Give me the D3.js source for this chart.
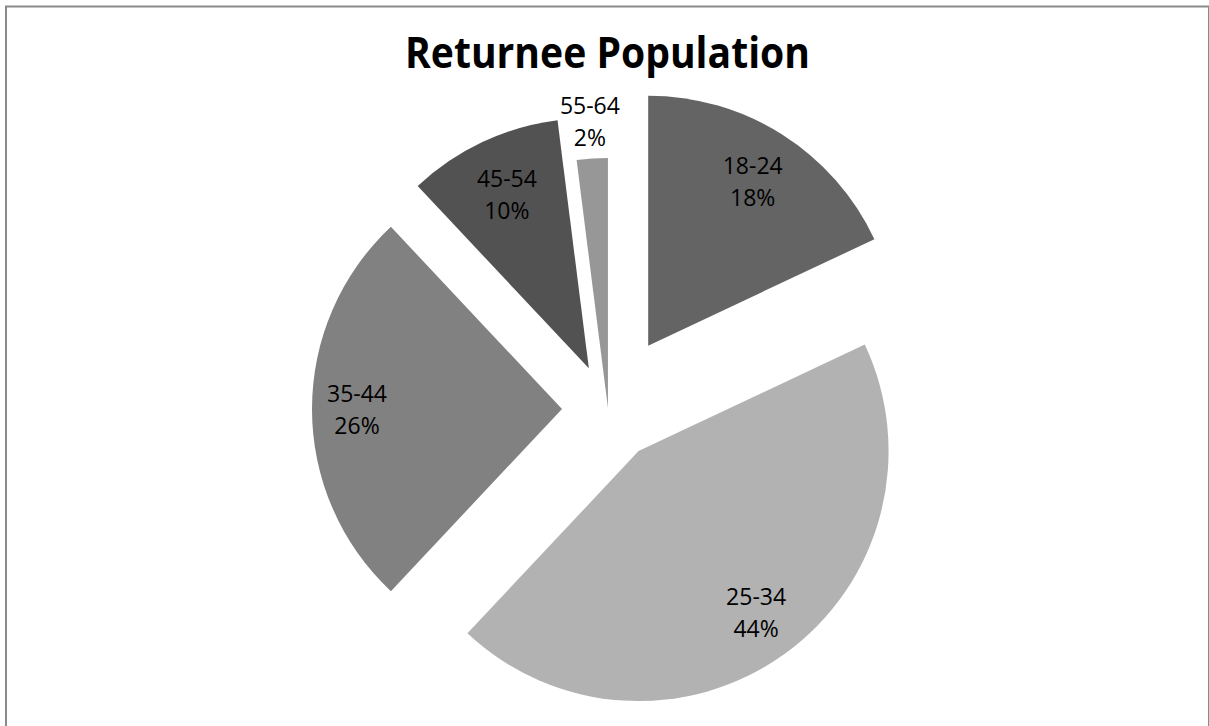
<!DOCTYPE html>
<html>
<head>
<meta charset="utf-8">
<script src="https://cdn.jsdelivr.net/npm/d3@7"></script>
<style>
  html, body { margin: 0; padding: 0; background: #fff; }
  svg { display: block; }
</style>
</head>
<body>
<svg id="chart" width="1209" height="726"></svg>
<script>
// Age groups and their share of the returnee population (%)
const categories = ["18-24", "25-34", "35-44", "45-54", "55-64"];
const shares = [18, 44, 26, 10, 2];
const title = "Returnee Population";

// Slice fills, one per age group
const fills = ["#646464", "#b2b2b2", "#818181", "#525252", "#979797"];
// How far each slice is pulled out from the centre (px)
const pullOut = [75, 52, 46, 45, 1];
// Where each label block sits, as a fraction of the radius from the slice apex
const labelReach = [0.78, 0.80, 0.82, 0.77, 1.15];

const cx = 608, cy = 409, R = 250;

const svg = d3.select("#chart");

// chart frame
svg.append("rect")
  .attr("x", 6).attr("y", 6.5)
  .attr("width", 1203).attr("height", 760)
  .attr("fill", "none")
  .attr("stroke", "#8a8a8a")
  .attr("stroke-width", 2);

svg.append("text")
  .attr("x", 405).attr("y", 68)
  .attr("text-anchor", "start")
  .attr("font-family", "'Open Sans', sans-serif")
  .attr("font-weight", 700)
  .attr("font-size", 43)
  .attr("textLength", 405)
  .attr("lengthAdjust", "spacingAndGlyphs")
  .attr("fill", "#000")
  .text(title);

const pie = d3.pie().sort(null).value(d => d.v);
const data = pie(categories.map((c, i) => ({ c, v: shares[i], i })));
const arc = d3.arc().innerRadius(0).outerRadius(R);

const g = svg.append("g").attr("transform", `translate(${cx},${cy})`);

const slice = g.selectAll("g.slice").data(data).join("g")
  .attr("class", "slice")
  .attr("transform", d => {
    const mid = (d.startAngle + d.endAngle) / 2;
    const k = pullOut[d.data.i];
    return `translate(${k * Math.sin(mid)},${-k * Math.cos(mid)})`;
  });

slice.append("path")
  .attr("d", arc)
  .attr("fill", d => fills[d.data.i]);

const lbl = slice.append("text")
  .attr("text-anchor", "middle")
  .attr("font-family", "'Open Sans', sans-serif")
  .attr("font-size", 23)
  .attr("fill", "#000")
  .attr("transform", d => {
    const mid = (d.startAngle + d.endAngle) / 2;
    const r = labelReach[d.data.i] * R;
    return `translate(${r * Math.sin(mid)},${-r * Math.cos(mid)})`;
  });

lbl.append("tspan").attr("x", 0).attr("y", -7.5).text(d => d.data.c);
lbl.append("tspan").attr("x", 0).attr("y", 24.5).text(d => d.data.v + "%");
</script>
</body>
</html>
